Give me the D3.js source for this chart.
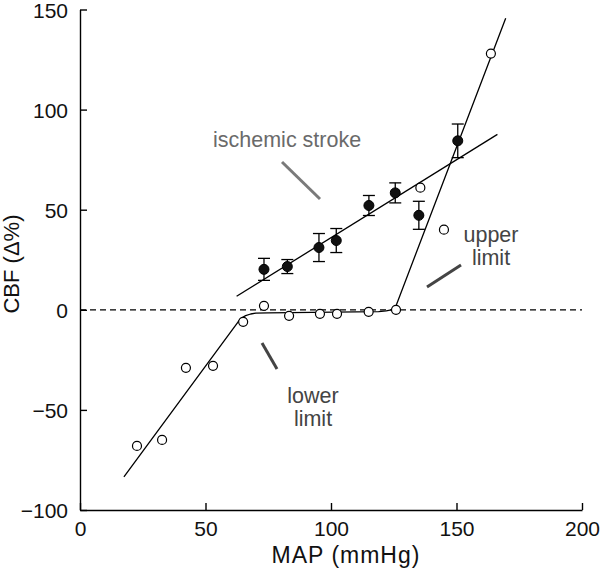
<!DOCTYPE html>
<html><head><meta charset="utf-8">
<script src="https://cdn.jsdelivr.net/npm/d3@7"></script>
<style>body{margin:0;background:#fff}svg{display:block}</style>
</head><body><svg id="c" width="600" height="576"></svg>
<script>
// Normal autoregulation (open circles)
const normMAP = [22.7, 32.7, 42.2, 53, 65, 73.3, 83.3, 95.6, 102.4, 115, 125.9, 135.6, 145, 163.7];
const normCBF = [-68, -65, -29, -28, -6, 2, -3, -2, -2, -1, 0, 61, 40, 128];
// Ischemic stroke (filled circles, mean ± error)
const strokeMAP = [73.3, 82.6, 95.2, 102.1, 115.1, 125.6, 135, 150.5];
const strokeCBF = [20.2, 21.6, 31.1, 34.6, 52.1, 58.4, 47.2, 84.4];
const strokeErr = [5.5, 3.5, 7, 6, 5, 5, 7, 8.4];
// Fitted autoregulation curve
const fitMAP = [17.5, 63, 64.5, 66, 68, 70, 75, 119, 122, 124, 125.5, 169.6];
const fitCBF = [-83.5, -6, -4, -2.9, -2.1, -1.7, -1.5, -0.9, -0.5, 0, 0.7, 145.6];
// Ischemic regression line
const strokeFitMAP = [62.4, 166.3];
const strokeFitCBF = [6.75, 87.6];
// Axes
const xTicks = [0, 50, 100, 150, 200];
const yTicks = [-100, -50, 0, 50, 100, 150];

const svg = d3.select('#c');
const FONT = 'Liberation Sans, Arial, Helvetica, sans-serif';
const x = d3.scaleLinear().domain([0, 200]).range([80, 582]);
const y = d3.scaleLinear().domain([-100, 150]).range([510, 9.5]);

// reference line at 0
svg.append('line').attr('x1', x(0)).attr('x2', x(200)).attr('y1', y(0)).attr('y2', y(0))
  .attr('stroke', '#000').attr('stroke-width', 1.2).attr('stroke-dasharray', '6,4');

const xa = svg.append('g').attr('transform', `translate(0,${y(-100)})`)
  .call(d3.axisBottom(x).tickValues(xTicks).tickSize(-7).tickPadding(11).tickSizeOuter(0));
const ya = svg.append('g').attr('transform', `translate(${x(0)},0)`)
  .call(d3.axisLeft(y).tickValues(yTicks).tickSize(-7).tickPadding(12).tickSizeOuter(0)
    .tickFormat(d => d < 0 ? '\u2212' + Math.abs(d) : d));
[xa, ya].forEach(a => {
  a.selectAll('path,line').attr('stroke', '#000').attr('stroke-width', 1.4);
  a.selectAll('text').attr('font-family', FONT).attr('font-size', 21).attr('fill', '#111');
});
ya.selectAll('text').attr('dy', '0.38em');

// fit lines
svg.append('path').datum(fitMAP.map((v, i) => [v, fitCBF[i]]))
  .attr('d', d3.line().x(d => x(d[0])).y(d => y(d[1])))
  .attr('fill', 'none').attr('stroke', '#000').attr('stroke-width', 1.3).attr('stroke-linejoin', 'round');
svg.append('path').datum(strokeFitMAP.map((v, i) => [v, strokeFitCBF[i]]))
  .attr('d', d3.line().x(d => x(d[0])).y(d => y(d[1]))).attr('fill', 'none').attr('stroke', '#000').attr('stroke-width', 1.3);

// error bars
const eb = svg.append('g').attr('stroke', '#000').attr('stroke-width', 1.3);
strokeMAP.forEach((m, i) => {
  const lo = strokeCBF[i] - strokeErr[i], hi = strokeCBF[i] + strokeErr[i];
  eb.append('line').attr('x1', x(m)).attr('x2', x(m)).attr('y1', y(lo)).attr('y2', y(hi));
  eb.append('line').attr('x1', x(m) - 6).attr('x2', x(m) + 6).attr('y1', y(lo)).attr('y2', y(lo));
  eb.append('line').attr('x1', x(m) - 6).attr('x2', x(m) + 6).attr('y1', y(hi)).attr('y2', y(hi));
});
svg.append('g').selectAll('circle').data(strokeMAP).join('circle')
  .attr('cx', d => x(d)).attr('cy', (d, i) => y(strokeCBF[i])).attr('r', 5)
  .attr('fill', '#111').attr('stroke', '#000').attr('stroke-width', 1);
svg.append('g').selectAll('circle').data(normMAP).join('circle')
  .attr('cx', d => x(d)).attr('cy', (d, i) => y(normCBF[i])).attr('r', 4.5)
  .attr('fill', '#fff').attr('stroke', '#000').attr('stroke-width', 1.2);

// annotations
function txt(t, px, py, col, anchor) {
  svg.append('text').attr('x', px).attr('y', py).text(t).attr('font-family', FONT)
    .attr('font-size', 21.5).attr('fill', col).attr('text-anchor', anchor || 'start');
}
txt('ischemic stroke', 213, 147, '#6a6a6a');
svg.append('line').attr('x1', 282).attr('y1', 162).attr('x2', 320).attr('y2', 199)
  .attr('stroke', '#7a7a7a').attr('stroke-width', 3);
txt('upper', 491, 242, '#444', 'middle');
txt('limit', 491, 265, '#444', 'middle');
svg.append('line').attr('x1', 427).attr('y1', 287).attr('x2', 461).attr('y2', 265)
  .attr('stroke', '#444').attr('stroke-width', 3);
txt('lower', 313, 403, '#444', 'middle');
txt('limit', 313, 426, '#444', 'middle');
svg.append('line').attr('x1', 262).attr('y1', 343).attr('x2', 277).attr('y2', 369)
  .attr('stroke', '#444').attr('stroke-width', 3);

// axis titles
svg.append('text').attr('x', 346).attr('y', 563).attr('text-anchor', 'middle')
  .attr('font-family', FONT).attr('font-size', 23).attr('letter-spacing', 1).attr('fill', '#111').text('MAP (mmHg)');
svg.append('text').attr('transform', 'translate(19,264) rotate(-90)').attr('text-anchor', 'middle')
  .attr('font-family', FONT).attr('font-size', 22).attr('fill', '#111').text('CBF (\u0394%)');
</script></body></html>
